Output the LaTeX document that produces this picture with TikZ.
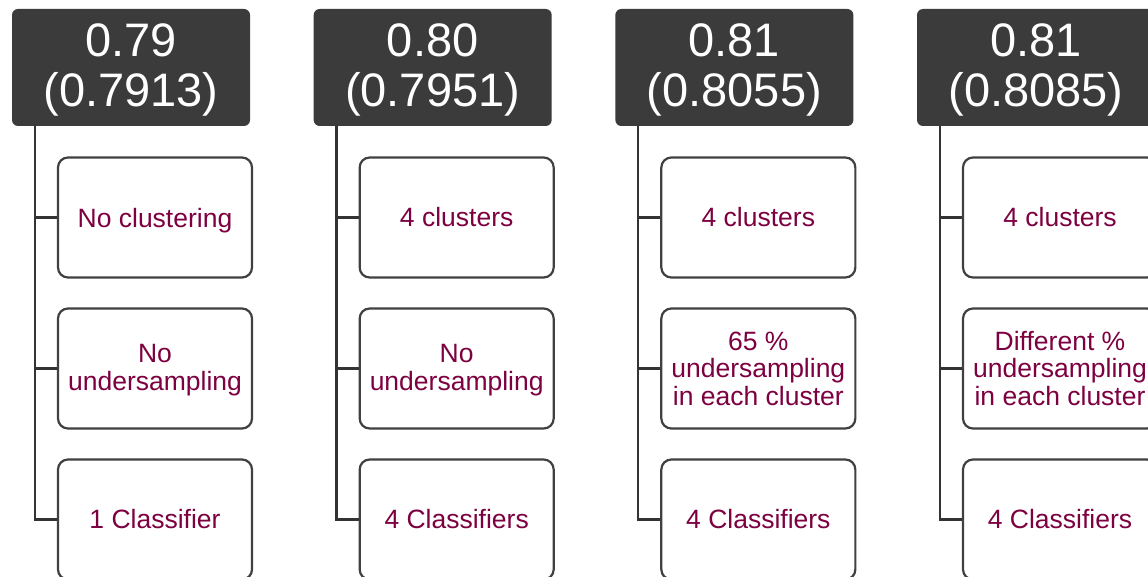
\documentclass[tikz,border=0pt]{standalone}
\usepackage{fontspec}
\setmainfont{Liberation Sans}
\definecolor{hdr}{RGB}{59,59,59}
\definecolor{bord}{RGB}{64,64,64}
\definecolor{linec}{RGB}{51,51,51}
\definecolor{maroon}{RGB}{125,0,64}
\newcommand\dep[2]{\raisebox{0pt}[\height][#1]{#2}}
\begin{document}
\begin{tikzpicture}[x=1pt,y=-1pt,
  hdrbox/.style={fill=hdr, rounded corners=6pt, minimum width=238pt, minimum height=117pt,
    inner sep=0pt, align=center, text=white, font=\fontsize{47}{50}\selectfont},
  leaf/.style={draw=bord, fill=white, line width=2.2pt, rounded corners=10pt, minimum width=194pt,
    minimum height=120pt, inner sep=0pt, align=center, text=maroon, font=\fontsize{26.5}{27.5}\selectfont},
  conn/.style={draw=linec, line width=2.6pt}]
\useasboundingbox (0,0) rectangle (1148,577);
\clip (0,0) rectangle (1148,577);
\fill[white] (0,0) rectangle (1148,577);
\foreach \i/\top/\bot/\ta/\tb/\tc in {
  0/0.79/{(0.7913)}/{\dep{0pt}{No clustering}}/{No\\\dep{2.5pt}{undersampling}}/{1 Classifier},
  1/0.80/{(0.7951)}/{4 clusters}/{No\\\dep{2.5pt}{undersampling}}/{4 Classifiers},
  2/0.81/{(0.8055)}/{4 clusters}/{65 \%\\undersampling\\in each cluster}/{4 Classifiers},
  3/0.81/{(0.8085)}/{4 clusters}/{Different \%\\undersampling\\in each cluster}/{4 Classifiers}}
{
  \begin{scope}[xshift=\i*301.67pt]
    \node[hdrbox] (h\i) at (131,67.5) {\top\\\dep{4pt}{\bot}};
    \coordinate (t\i) at ([xshift=23pt]h\i.south west);
    \node[leaf] (a\i) at (155,217.5) {\ta};
    \node[leaf] (b\i) at (155,368.5) {\tb};
    \node[leaf] (c\i) at (155,519.5) {\tc};
    \draw[conn] (t\i) |- (c\i.west);
    \draw[conn] (a\i.west -| t\i) -- (a\i.west);
    \draw[conn] (b\i.west -| t\i) -- (b\i.west);
  \end{scope}
}
\end{tikzpicture}
\end{document}
